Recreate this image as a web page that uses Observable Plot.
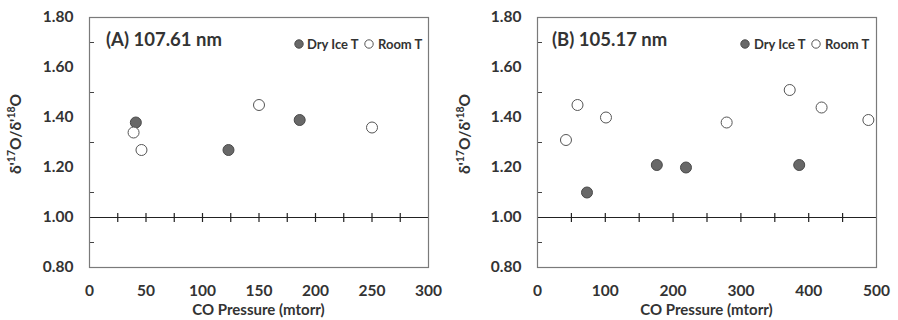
<!DOCTYPE html>
<html>
<head>
<meta charset="utf-8">
<script src="https://cdn.jsdelivr.net/npm/d3@7"></script>
<script src="https://cdn.jsdelivr.net/npm/@observablehq/plot@0.6"></script>
<style>
  body { margin: 0; background: #fff; }
  #row { display: flex; width: 898px; height: 320px; }
  svg { font-family: Lato, "Open Sans", sans-serif; }
</style>
</head>
<body>
<div id="row"></div>
<script>
// ---- data ----
const pressureA_dry = [41, 123, 186];
const ratioA_dry = [1.38, 1.27, 1.39];
const pressureA_room = [39, 46, 150, 250];
const ratioA_room = [1.34, 1.27, 1.45, 1.36];

const pressureB_dry = [73, 176, 219, 386];
const ratioB_dry = [1.10, 1.21, 1.20, 1.21];
const pressureB_room = [42, 59, 101, 279, 372, 419, 488];
const ratioB_room = [1.31, 1.45, 1.40, 1.38, 1.51, 1.44, 1.39];

const yTickLabels = [0.8, 1.0, 1.2, 1.4, 1.6, 1.8];
const yMinorTicks = [0.9, 1.1, 1.3, 1.5, 1.7];
const xTickLabelsA = [0, 50, 100, 150, 200, 250, 300];
const xCrossTicksA = [25, 50, 75, 100, 125, 150, 175, 200, 225, 250, 275];
const xTickLabelsB = [0, 100, 200, 300, 400, 500];
const xCrossTicksB = [50, 100, 150, 200, 250, 300, 350, 400, 450];

const seriesNames = ["Dry Ice T", "Room T"];
const panelTitles = ["(A) 107.61 nm", "(B) 105.17 nm"];
const xTitle = "CO Pressure (mtorr)";

const TEXT = "#333";
const vbar = {draw(ctx) { ctx.moveTo(0, -4.5); ctx.lineTo(0, 4.5); }};

function panel(cfg) {
  const dry = cfg.px_dry.map((p, i) => ({p, r: cfg.r_dry[i]}));
  const room = cfg.px_room.map((p, i) => ({p, r: cfg.r_room[i]}));
  const svg = Plot.plot({
    width: 449, height: 320,
    marginLeft: cfg.ml, marginRight: cfg.mr, marginTop: 17, marginBottom: 53,
    style: {fontFamily: "Lato, 'Open Sans', sans-serif", color: TEXT, background: "white", overflow: "visible"},
    x: {domain: cfg.xdomain},
    y: {domain: [0.8, 1.8]},
    marks: [
      Plot.axisY(yTickLabels, {tickSize: 0, tickPadding: 16, tickFormat: d => d.toFixed(2), label: null,
        fontSize: 15.5, fontWeight: 700, fill: TEXT}),
      Plot.axisY(yMinorTicks, {tickSize: -5, tickFormat: () => "", label: null, stroke: "#444"}),
      Plot.axisX(cfg.xlabels, {tickSize: 0, tickPadding: 17, label: null, fontSize: 15.5, fontWeight: 700, fill: TEXT}),
      Plot.ruleY([1], {stroke: "#222", strokeWidth: 1.2}),
      Plot.dot(cfg.xcross, {x: d => d, y: () => 1, symbol: vbar, stroke: "#222", strokeWidth: 1.2}),
      Plot.frame({stroke: "#7a7a7a", strokeWidth: 1.2}),
      Plot.dot(dry, {x: "p", y: "r", r: 5.5, fill: "#686868", stroke: "#4a4a4a", strokeWidth: 1}),
      Plot.dot(room, {x: "p", y: "r", r: 5.5, fill: "white", stroke: "#555", strokeWidth: 1})
    ]
  });
  const s = d3.select(svg);
  s.selectAll('g[aria-label="y-axis tick label"], g[aria-label="x-axis tick label"]')
    .style("font-size", "15.5px").style("font-weight", "700");
  const fx = cfg.ml + (449 - cfg.ml - cfg.mr) / 2;
  s.append("text").attr("x", fx).attr("y", 315).attr("text-anchor", "middle")
    .attr("font-size", 15).attr("font-weight", 700).attr("fill", TEXT).text(xTitle);
  const yl = s.append("text").attr("transform", "translate(21,134) rotate(-90)")
    .attr("text-anchor", "middle").attr("font-size", 15.5).attr("font-weight", 700).attr("fill", TEXT);
  yl.append("tspan").text("δ'");
  yl.append("tspan").attr("font-size", 10.5).attr("dy", -6).text("17");
  yl.append("tspan").attr("dy", 6).text("O/δ'");
  yl.append("tspan").attr("font-size", 10.5).attr("dy", -6).text("18");
  yl.append("tspan").attr("dy", 6).text("O");
  s.append("text").attr("x", cfg.tx).attr("y", 46).attr("text-anchor", "start").attr("font-size", 18.5).attr("font-weight", 700)
    .attr("fill", TEXT).text(cfg.title);
  const lg = cfg.legend;
  s.append("circle").attr("cx", lg[0]).attr("cy", 44).attr("r", 4.2).attr("fill", "#686868").attr("stroke", "#4a4a4a");
  s.append("text").attr("x", lg[1]).attr("y", 49).attr("text-anchor", "start").attr("font-size", 13).attr("font-weight", 700).attr("fill", TEXT).text(seriesNames[0]);
  s.append("circle").attr("cx", lg[2]).attr("cy", 44).attr("r", 4.2).attr("fill", "white").attr("stroke", "#555");
  s.append("text").attr("x", lg[3]).attr("y", 49).attr("text-anchor", "start").attr("font-size", 13).attr("font-weight", 700).attr("fill", TEXT).text(seriesNames[1]);
  return svg;
}

const row = document.getElementById("row");
row.appendChild(panel({
  px_dry: pressureA_dry, r_dry: ratioA_dry, px_room: pressureA_room, r_room: ratioA_room,
  xdomain: [0, 300], xlabels: xTickLabelsA, xcross: xCrossTicksA, ml: 89, mr: 21,
  title: panelTitles[0], tx: 106, legend: [299, 307, 369, 378]
}));
row.appendChild(panel({
  px_dry: pressureB_dry, r_dry: ratioB_dry, px_room: pressureB_room, r_room: ratioB_room,
  xdomain: [0, 500], xlabels: xTickLabelsB, xcross: xCrossTicksB, ml: 88, mr: 22,
  title: panelTitles[1], tx: 103, legend: [296, 305, 367, 376]
}));
</script>
</body>
</html>
